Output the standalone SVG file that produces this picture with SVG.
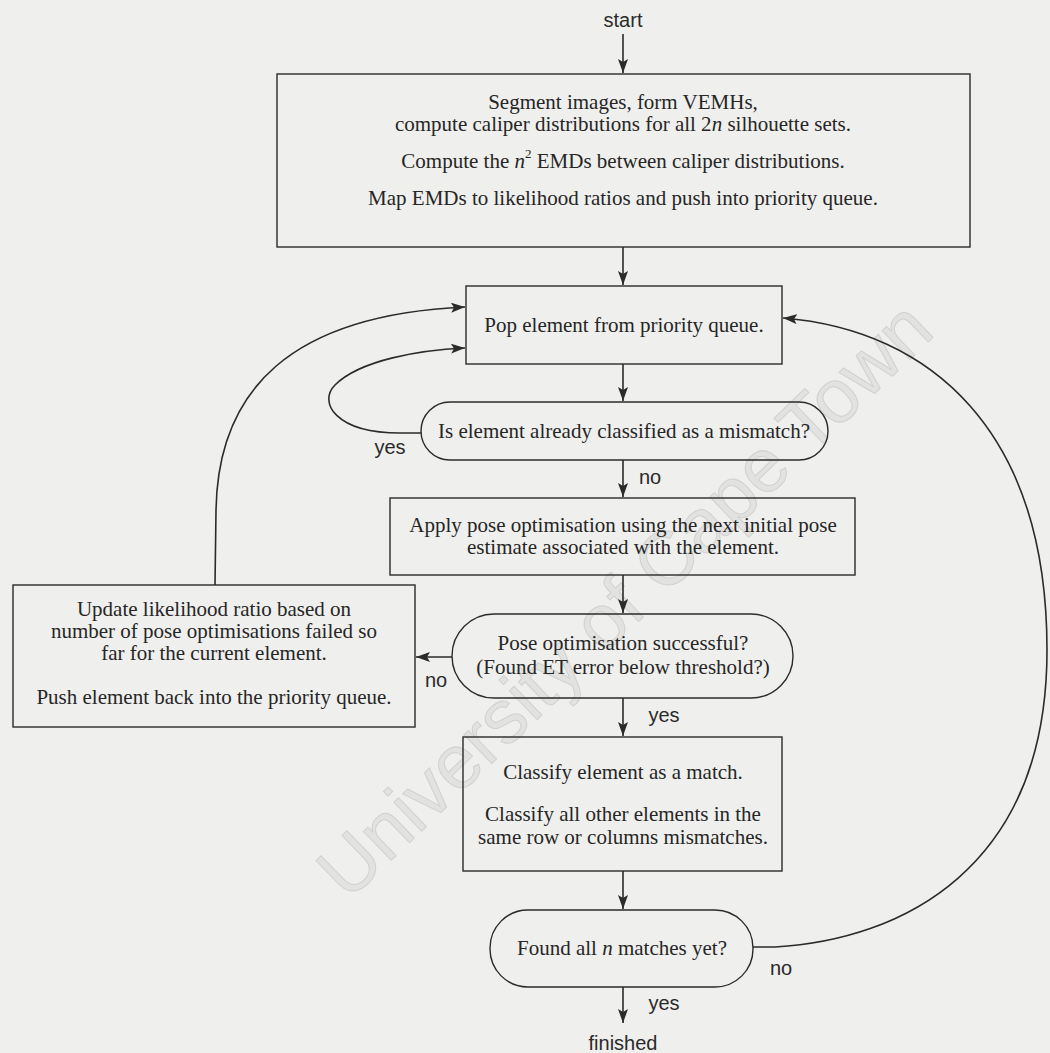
<svg xmlns="http://www.w3.org/2000/svg" width="1050" height="1053" viewBox="0 0 1050 1053">
<style>
.bg{fill:#efefed}
.box{fill:none;stroke:#2b2b2b;stroke-width:1.4}
.t{font-family:"Liberation Serif","Times New Roman",serif;font-size:21px;fill:#262626;text-anchor:middle;dominant-baseline:central}
.l{font-family:"Liberation Sans",Arial,sans-serif;font-size:20px;fill:#2a2a2a;text-anchor:middle;dominant-baseline:central}
.c{fill:none;stroke:#2b2b2b;stroke-width:1.6;marker-end:url(#ah)}
.wm{font-family:"Liberation Sans",Arial,sans-serif;font-size:76px;fill:#c4c4c4;fill-opacity:0.3;stroke:#a8a8a8;stroke-opacity:0.35;stroke-width:1;text-anchor:middle}
</style>
<defs>
<marker id="ah" viewBox="0 0 14 10" refX="14" refY="5" markerWidth="14" markerHeight="10" markerUnits="userSpaceOnUse" orient="auto">
<path d="M0,0 L14,5 L0,10 L3,5 Z" fill="#2b2b2b"/>
</marker>
</defs>
<rect class="bg" x="0" y="0" width="1050" height="1053"/>
<text class="wm" x="625" y="625" transform="rotate(-44 625 600)">University of Cape Town</text>

<g id="start"><text class="l" x="623" y="20">start</text></g>

<g id="n1">
<rect class="box" x="277" y="74" width="693" height="173"/>
<text class="t" x="623" y="102">Segment images, form VEMHs,</text>
<text class="t" x="623" y="124">compute caliper distributions for all 2<tspan font-style="italic">n</tspan> silhouette sets.</text>
<text class="t" x="623" y="161">Compute the <tspan font-style="italic">n</tspan><tspan font-size="13" dy="-8">2</tspan><tspan dy="8"> EMDs between caliper distributions.</tspan></text>
<text class="t" x="623" y="198">Map EMDs to likelihood ratios and push into priority queue.</text>
</g>

<g id="n2">
<rect class="box" x="466" y="286" width="316" height="78"/>
<text class="t" x="624" y="325">Pop element from priority queue.</text>
</g>

<g id="d1">
<rect class="box" x="421" y="402" width="407" height="58" rx="29" ry="29"/>
<text class="t" x="624" y="431">Is element already classified as a mismatch?</text>
</g>

<g id="n3">
<rect class="box" x="390" y="498" width="465" height="77"/>
<text class="t" x="623" y="525">Apply pose optimisation using the next initial pose</text>
<text class="t" x="623" y="547">estimate associated with the element.</text>
</g>

<g id="d2">
<rect class="box" x="452" y="614" width="341" height="84" rx="42" ry="42"/>
<text class="t" x="623" y="643">Pose optimisation successful?</text>
<text class="t" x="623" y="667">(Found ET error below threshold?)</text>
</g>

<g id="n4">
<rect class="box" x="13" y="585" width="402" height="142"/>
<text class="t" x="214" y="609">Update likelihood ratio based on</text>
<text class="t" x="214" y="631">number of pose optimisations failed so</text>
<text class="t" x="214" y="653">far for the current element.</text>
<text class="t" x="214" y="697">Push element back into the priority queue.</text>
</g>

<g id="n5">
<rect class="box" x="463" y="737" width="319" height="134"/>
<text class="t" x="623" y="772">Classify element as a match.</text>
<text class="t" x="623" y="814">Classify all other elements in the</text>
<text class="t" x="623" y="837">same row or columns mismatches.</text>
</g>

<g id="d3">
<rect class="box" x="490" y="910" width="263" height="77" rx="38" ry="38"/>
<text class="t" x="622" y="948">Found all <tspan font-style="italic">n</tspan> matches yet?</text>
</g>

<g id="finished"><text class="l" x="623" y="1043">finished</text></g>

<g id="connectors">
<path class="c" d="M623,34 L623,73"/>
<path class="c" d="M623,247 L623,285"/>
<path class="c" d="M623,364 L623,401"/>
<path class="c" d="M421,433 L400,433 C335,433 318,402 335,385 C360,360 420,350 465,348"/>
<path class="c" d="M623,460 L623,497"/>
<path class="c" d="M623,575 L623,613"/>
<path class="c" d="M452,657 L416,657"/>
<path class="c" d="M215,585 L216,510 C218,390 290,315 465,307"/>
<path class="c" d="M623,698 L623,736"/>
<path class="c" d="M623,871 L623,909"/>
<path class="c" d="M753,947 L775,947 C900,940 1047,870 1047,650 C1047,430 930,330 783,318"/>
<path class="c" d="M623,987 L623,1023"/>
<text class="l" x="390" y="447">yes</text>
<text class="l" x="650" y="477">no</text>
<text class="l" x="436" y="680">no</text>
<text class="l" x="664" y="715">yes</text>
<text class="l" x="781" y="968">no</text>
<text class="l" x="664" y="1003">yes</text>
</g>
</svg>
